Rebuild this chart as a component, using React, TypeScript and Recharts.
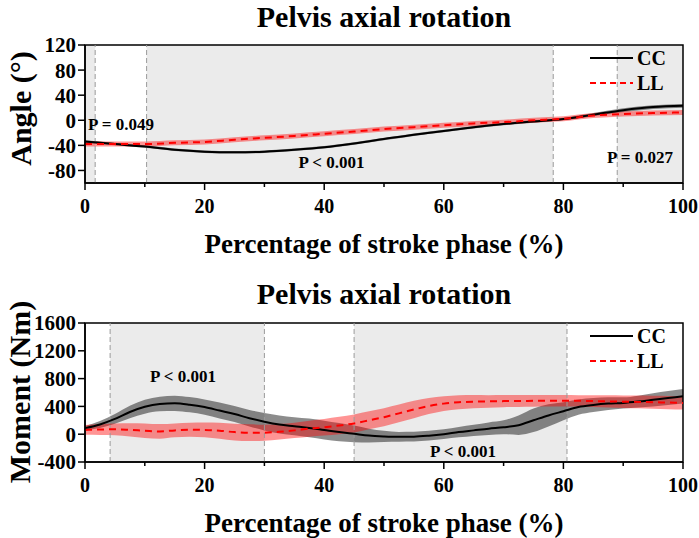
import React from 'react';
import { ComposedChart, Area, Line, XAxis, YAxis, ReferenceArea, ReferenceLine } from 'recharts';

const FONT = '"Liberation Serif", "Times New Roman", Times, serif';

// ---------- Top panel: angle ----------
const angleX = [0, 5, 10, 15, 20, 25, 30, 35, 40, 45, 50, 55, 60, 65, 70, 75, 80, 85, 90, 95, 100];
const angleCCMean = [-34, -38, -42, -47, -50, -51, -50, -47, -43, -37, -30, -23, -17, -11, -6, -2, 2, 9, 16, 21, 23];
const angleCCSd = [2, 2, 2, 2, 2, 2, 2, 2, 2, 2, 2, 2, 2, 2, 2, 2, 2, 2.5, 3, 3, 3];
const angleLLMean = [-38, -38, -38, -36, -34.5, -31, -28, -25, -21.5, -18, -14, -11, -8, -5, -3, 0, 2.5, 7.5, 10, 11.5, 12.5];
const angleLLSd = [4, 4, 4, 4, 4, 4, 4, 4, 4, 4, 4, 4, 4, 4, 4, 4, 4, 4, 4, 4, 4];
const angleYTicks = [-80, -40, 0, 40, 80, 120];
const angleSigRegions = [[0, 1.7], [10.3, 78.3], [89, 100]];
const angleBoundaries = [1.7, 10.3, 78.3, 89];

// ---------- Bottom panel: moment ----------
const momentX = [0, 2.5, 5, 7.5, 10, 12.5, 15, 17.5, 20, 22.5, 25, 27.5, 30, 32.5, 35, 37.5, 40, 42.5, 45, 47.5, 50, 52.5, 55, 57.5, 60, 62.5, 65, 67.5, 70, 72.5, 75, 77.5, 80, 82.5, 85, 87.5, 90, 92.5, 95, 97.5, 100];
const momentCCMean = [87, 140, 220, 320, 395, 435, 445, 425, 390, 340, 290, 230, 180, 140, 115, 90, 60, 30, 5, -20, -32, -38, -36, -22, 0, 30, 55, 80, 100, 130, 200, 270, 330, 390, 420, 440, 450, 470, 495, 520, 545];
const momentCCSd = [30, 50, 70, 90, 100, 105, 110, 110, 110, 115, 115, 120, 125, 130, 130, 135, 135, 130, 120, 100, 80, 70, 70, 70, 70, 75, 80, 90, 100, 140, 170, 160, 130, 110, 100, 90, 80, 85, 95, 100, 105];
const momentLLMean = [62, 68, 70, 62, 50, 40, 55, 65, 62, 50, 30, 22, 22, 35, 55, 80, 100, 125, 155, 200, 245, 300, 355, 405, 440, 460, 468, 472, 476, 478, 480, 481, 481, 480, 476, 472, 468, 464, 460, 455, 450];
const momentLLSd = [70, 78, 85, 95, 105, 105, 100, 100, 105, 115, 120, 120, 115, 110, 110, 115, 120, 125, 130, 130, 130, 128, 125, 115, 105, 100, 95, 90, 88, 85, 85, 82, 82, 82, 85, 88, 90, 92, 95, 96, 96];
const momentYTicks = [-400, 0, 400, 800, 1200, 1600];
const momentSigRegions = [[4.2, 30], [45, 80.6]];
const momentBoundaries = [4.2, 30, 45, 80.6];

const xTicks = [0, 10, 20, 30, 40, 50, 60, 70, 80, 90, 100];

function buildRows(x: number[], ccM: number[], ccS: number[], llM: number[], llS: number[]) {
  return x.map((v, i) => ({
    x: v,
    ccMean: ccM[i],
    ccBand: [ccM[i] - ccS[i], ccM[i] + ccS[i]],
    llMean: llM[i],
    llBand: [llM[i] - llS[i], llM[i] + llS[i]],
  }));
}

const angleRows = buildRows(angleX, angleCCMean, angleCCSd, angleLLMean, angleLLSd);
const momentRows = buildRows(momentX, momentCCMean, momentCCSd, momentLLMean, momentLLSd);

const XTick = (props: any) => {
  const { x, y, payload } = props;
  const major = payload.value % 20 === 0;
  return (
    <g>
      <line x1={x} x2={x} y1={y} y2={y + (major ? 7 : 4)} stroke="#000" strokeWidth={1.5} />
      {major && (
        <text x={x} y={y + 29.5} textAnchor="middle" fill="#000" fontSize={20} fontWeight={700} fontFamily={FONT}>
          {payload.value}
        </text>
      )}
    </g>
  );
};

function Panel(props: {
  rows: any[];
  domain: [number, number];
  yTicks: number[];
  regions: number[][];
  bounds: number[];
  marginBottom: number;
}) {
  const { rows, domain, yTicks, regions, bounds, marginBottom } = props;
  return (
    <ComposedChart
      width={699}
      height={260}
      data={rows}
      margin={{ top: 45, right: 16, left: 0, bottom: marginBottom }}
    >
      <XAxis
        dataKey="x"
        type="number"
        domain={[0, 100]}
        ticks={xTicks}
        interval={0}
        height={30}
        tickSize={0}
        tickMargin={0}
        tickLine={false}
        axisLine={{ stroke: '#000', strokeWidth: 1.5 }}
        tick={<XTick />}
        allowDataOverflow
      />
      <YAxis
        type="number"
        domain={domain}
        ticks={yTicks}
        interval={0}
        width={85}
        tickSize={7}
        tickMargin={2}
        allowDataOverflow
        axisLine={{ stroke: '#000', strokeWidth: 1.5 }}
        tickLine={{ stroke: '#000', strokeWidth: 1.5 }}
        tick={{ fill: '#000', fontSize: 21, fontWeight: 700, fontFamily: FONT }}
      />
      {regions.map((r, i) => (
        <ReferenceArea key={'r' + i} x1={r[0]} x2={r[1]} y1={domain[0]} y2={domain[1]} fill="#ebebeb" fillOpacity={1} stroke="none" ifOverflow="hidden" />
      ))}
      {bounds.map((b, i) => (
        <ReferenceLine key={'b' + i} x={b} stroke="#9a9a9a" strokeWidth={1} strokeDasharray="5 3" />
      ))}
      <Area type="monotone" dataKey="ccBand" stroke="none" fill="#000" fillOpacity={0.45} isAnimationActive={false} />
      <Area type="monotone" dataKey="llBand" stroke="none" fill="#ff0000" fillOpacity={0.42} isAnimationActive={false} />
      <Line type="monotone" dataKey="ccMean" stroke="#000" strokeWidth={2} dot={false} isAnimationActive={false} />
      <Line type="monotone" dataKey="llMean" stroke="#ff0000" strokeWidth={2} strokeDasharray="7 5" dot={false} isAnimationActive={false} />
      <ReferenceArea x1={0} x2={100} y1={domain[0]} y2={domain[1]} fill="none" stroke="#000" strokeWidth={1.5} />
    </ComposedChart>
  );
}

const txt = { fontFamily: FONT, fontWeight: 700, fill: '#000' } as const;

function Legend({ y }: { y: number }) {
  return (
    <g>
      <line x1={590} x2={633} y1={y} y2={y} stroke="#000" strokeWidth={2} />
      <text x={637} y={y + 7} fontSize={20} {...txt}>CC</text>
      <line x1={590} x2={633} y1={y + 25} y2={y + 25} stroke="#ff0000" strokeWidth={2} strokeDasharray="6 4" />
      <text x={637} y={y + 32} fontSize={20} {...txt}>LL</text>
    </g>
  );
}

export default function App() {
  return (
    <div style={{ position: 'absolute', left: 0, top: 0, width: 699, height: 538, background: '#fff' }}>
      <div style={{ position: 'absolute', left: 0, top: 0 }}>
        <Panel rows={angleRows} domain={[-100, 120]} yTicks={angleYTicks} regions={angleSigRegions} bounds={angleBoundaries} marginBottom={47} />
      </div>
      <div style={{ position: 'absolute', left: 0, top: 278 }}>
        <Panel rows={momentRows} domain={[-400, 1600]} yTicks={momentYTicks} regions={momentSigRegions} bounds={momentBoundaries} marginBottom={46} />
      </div>
      <svg width={699} height={538} style={{ position: 'absolute', left: 0, top: 0, pointerEvents: 'none' }}>
        <text x={384} y={27} textAnchor="middle" fontSize={30} {...txt}>Pelvis axial rotation</text>
        <text x={384} y={304} textAnchor="middle" fontSize={30} {...txt}>Pelvis axial rotation</text>
        <text x={384} y={253} textAnchor="middle" fontSize={27} {...txt}>Percentage of stroke phase (%)</text>
        <text x={384} y={531.5} textAnchor="middle" fontSize={27} {...txt}>Percentage of stroke phase (%)</text>
        <text x={31} y={108.5} textAnchor="middle" fontSize={30} transform="rotate(-90 31 108.5)" {...txt}>Angle (°)</text>
        <text x={30} y={392} textAnchor="middle" fontSize={30} transform="rotate(-90 30 392)" {...txt}>Moment (Nm)</text>
        <Legend y={58} />
        <Legend y={336} />
        <text x={88} y={130} fontSize={17} {...txt}>P = 0.049</text>
        <text x={331.5} y={168} textAnchor="middle" fontSize={17} {...txt}>P &lt; 0.001</text>
        <text x={640} y={163} textAnchor="middle" fontSize={17} {...txt}>P = 0.027</text>
        <text x={183} y={381.5} textAnchor="middle" fontSize={17} {...txt}>P &lt; 0.001</text>
        <text x={463} y={456.5} textAnchor="middle" fontSize={17} {...txt}>P &lt; 0.001</text>
      </svg>
    </div>
  );
}
